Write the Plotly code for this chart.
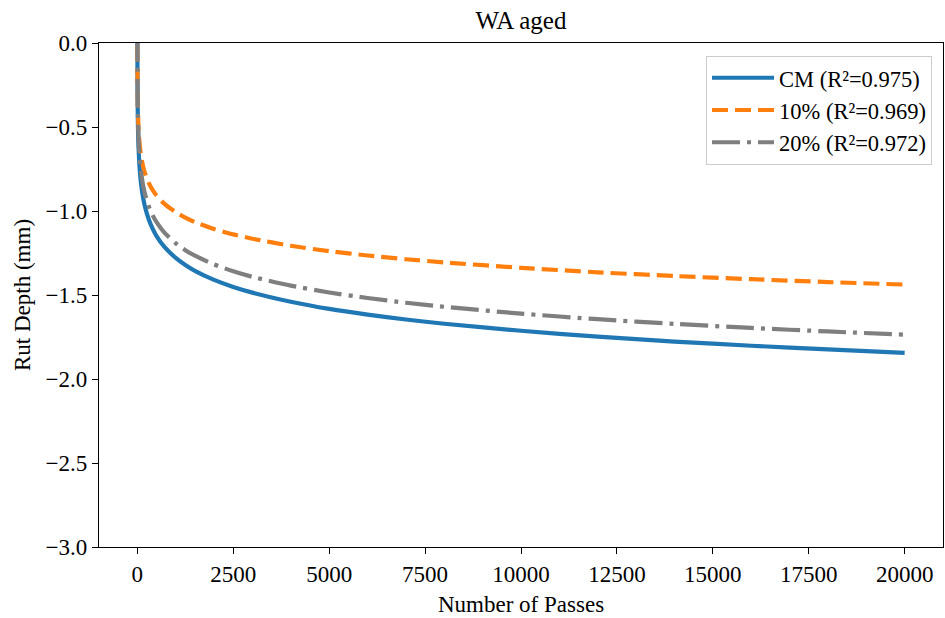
import plotly.graph_objects as go

passes = [1, 2, 3, 5, 7, 10, 15, 20, 30, 50, 75, 100, 150, 200, 300, 400, 500, 700,
          1000, 1250, 1500, 2000, 2500, 3000, 4000, 5000, 6000, 7000, 8000, 10000,
          12000, 14000, 16000, 18000, 20000]

cm_depth = [0.02, -0.108, -0.184, -0.280, -0.344, -0.411, -0.488, -0.542, -0.618, -0.714,
            -0.791, -0.845, -0.922, -0.976, -1.052, -1.106, -1.149, -1.212,
            -1.279, -1.321, -1.356, -1.410, -1.452, -1.486, -1.540, -1.583, -1.617,
            -1.646, -1.671, -1.713, -1.748, -1.777, -1.802, -1.824, -1.844]

p10_depth = [-0.014, -0.114, -0.172, -0.245, -0.294, -0.345, -0.403, -0.445, -0.503, -0.577,
             -0.635, -0.676, -0.735, -0.776, -0.834, -0.876, -0.908, -0.956,
             -1.007, -1.039, -1.066, -1.107, -1.139, -1.165, -1.207, -1.239, -1.265,
             -1.287, -1.306, -1.338, -1.365, -1.387, -1.406, -1.423, -1.438]

p20_depth = [0.06, -0.063, -0.137, -0.229, -0.291, -0.355, -0.429, -0.481, -0.555, -0.648,
             -0.721, -0.774, -0.848, -0.900, -0.973, -1.026, -1.066, -1.127,
             -1.192, -1.233, -1.266, -1.318, -1.359, -1.392, -1.444, -1.485, -1.518,
             -1.546, -1.570, -1.611, -1.644, -1.672, -1.696, -1.717, -1.736]

labels = ["CM (R²=0.975)", "10% (R²=0.969)", "20% (R²=0.972)"]
x_ticks = [0, 2500, 5000, 7500, 10000, 12500, 15000, 17500, 20000]
y_ticks = [-3.0, -2.5, -2.0, -1.5, -1.0, -0.5, 0.0]

FONT = "Liberation Serif, Times New Roman, serif"
FS = 23

fig = go.Figure()
fig.add_trace(go.Scatter(x=passes, y=cm_depth, mode="lines", name=labels[0],
                         line=dict(color="#1f77b4", width=4.2, shape="spline", smoothing=0.6)))
fig.add_trace(go.Scatter(x=passes, y=p10_depth, mode="lines", name=labels[1],
                         line=dict(color="#ff7f0e", width=4.2, dash="16px,7px", shape="spline", smoothing=0.6)))
fig.add_trace(go.Scatter(x=passes, y=p20_depth, mode="lines", name=labels[2],
                         line=dict(color="#7f7f7f", width=4.2, dash="28px,7px,4px,7px", shape="spline", smoothing=0.6)))

fig.update_layout(
    width=945, height=618,
    margin=dict(l=99, r=2, t=43, b=71, autoexpand=False),
    paper_bgcolor="white", plot_bgcolor="white",
    font=dict(family=FONT, size=FS, color="black"),
    title=dict(text="WA aged", x=0.5, xref="paper", y=1 - 20 / 618, yref="container",
               xanchor="center", yanchor="middle", font=dict(size=25, family=FONT)),
    showlegend=True,
    legend=dict(x=0.987, y=0.975, xanchor="right", yanchor="top",
                bgcolor="rgba(255,255,255,0.8)", bordercolor="#cccccc", borderwidth=1,
                font=dict(size=22.5, family=FONT), tracegroupgap=0, itemwidth=62),
    annotations=[
        dict(text="Number of Passes", xref="paper", yref="paper", x=0.5, y=0,
             yshift=-57, xanchor="center", yanchor="middle", showarrow=False,
             font=dict(size=FS, family=FONT)),
        dict(text="Rut Depth (mm)", xref="paper", yref="paper", x=0, y=0.5,
             xshift=-77, xanchor="center", yanchor="middle", showarrow=False,
             textangle=-90, font=dict(size=FS, family=FONT)),
    ],
)

fig.update_xaxes(range=[-1000, 21000], tickvals=x_ticks, tickformat="d",
                 ticks="outside", ticklen=6, tickwidth=1.2, tickcolor="black",
                 showline=True, linecolor="black", linewidth=1.2, mirror=True,
                 showgrid=False, zeroline=False, automargin=False)
fig.update_yaxes(range=[-3, 0], tickvals=y_ticks, tickformat=".1f",
                 ticks="outside", ticklen=6, tickwidth=1.2, tickcolor="black",
                 showline=True, linecolor="black", linewidth=1.2, mirror=True,
                 showgrid=False, zeroline=False, automargin=False)

fig.write_html("out.html", config={"displayModeBar": False},
               post_script="document.body.style.margin='0px';document.body.style.overflow='hidden';")
